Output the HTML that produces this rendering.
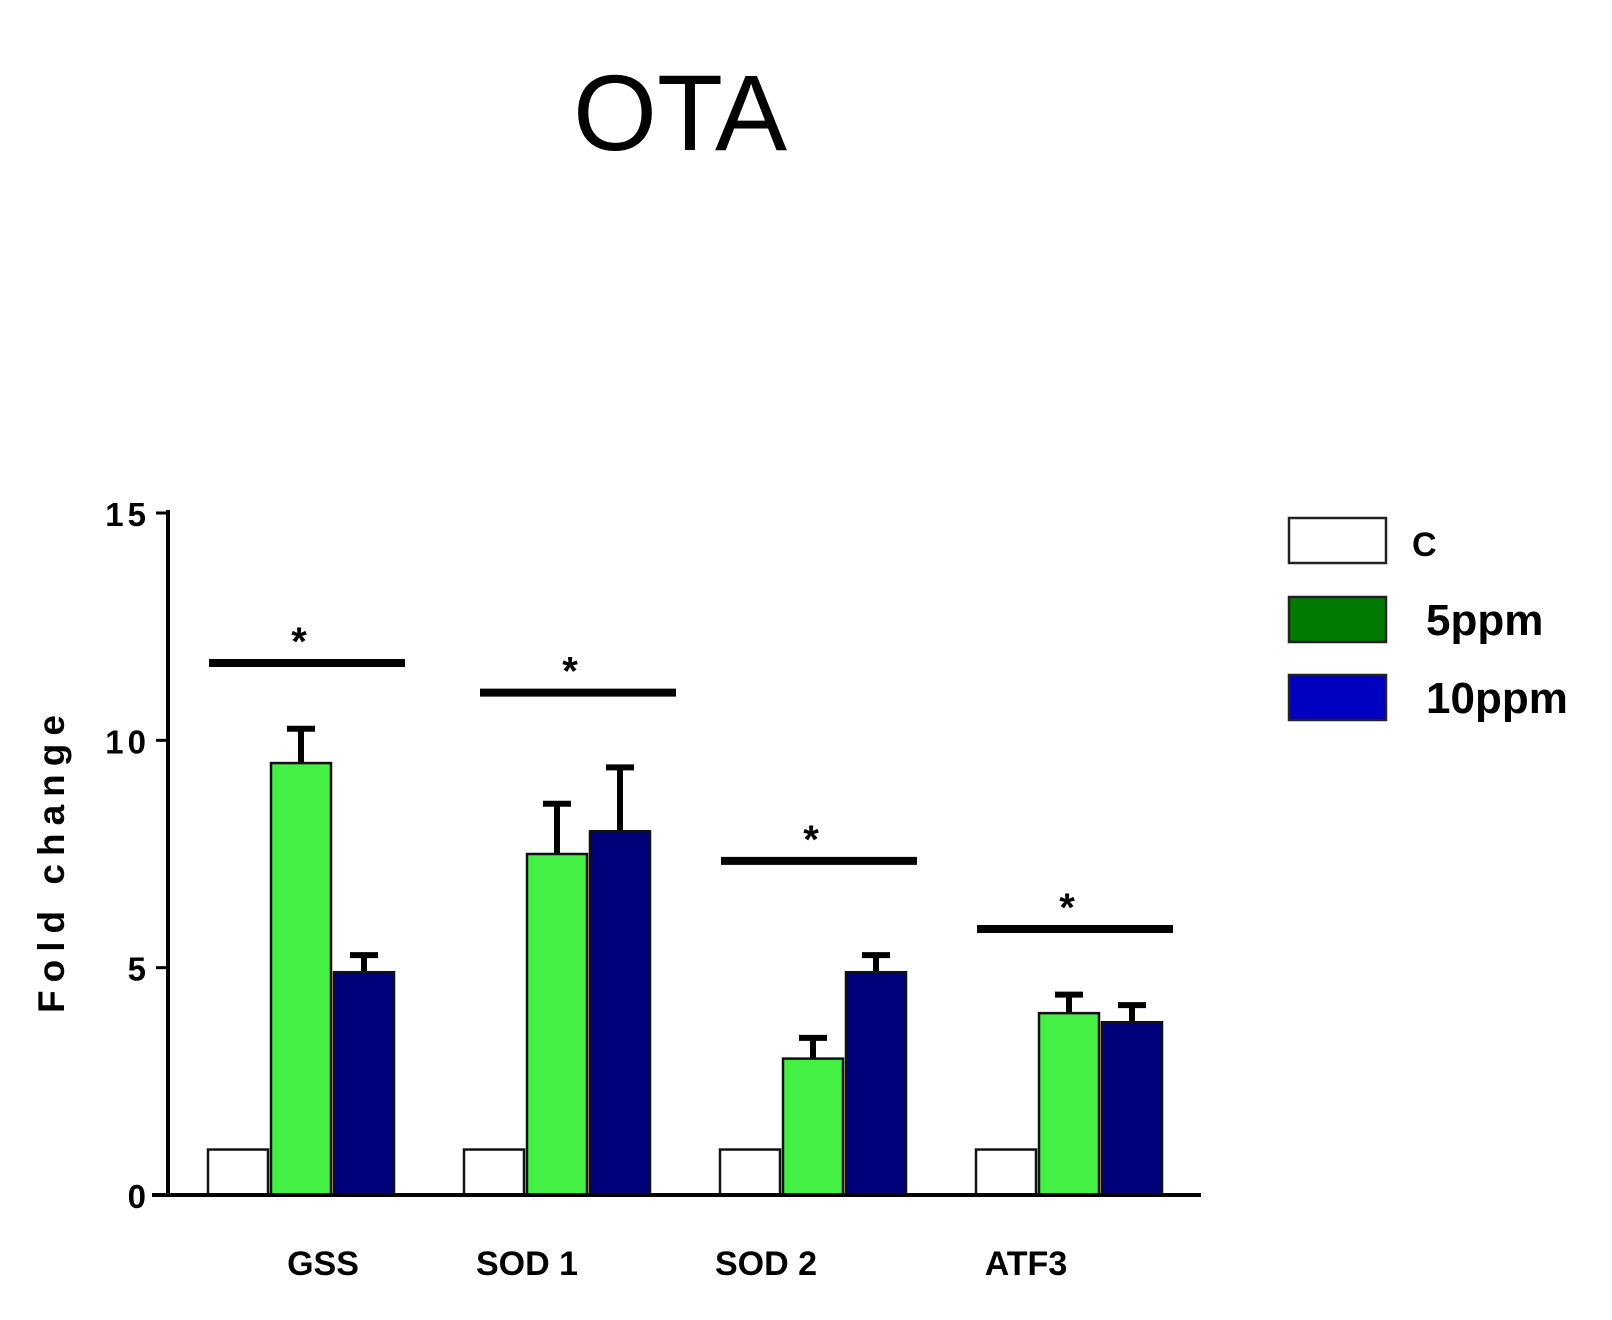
<!DOCTYPE html>
<html><head><meta charset="utf-8"><style>
body{margin:0;background:#fff;}
svg{display:block;font-family:"Liberation Sans",Arial,sans-serif;}
</style></head><body>
<svg id="chart" width="1612" height="1320" viewBox="0 0 1612 1320">
<text x="680" y="150" font-size="108" text-anchor="middle" fill="#000">OTA</text>
<g id="plot"></g>
</svg>
<script>
const categories=["GSS","SOD 1","SOD 2","ATF3"];
const controlVals=[1,1,1,1];
const ppm5Vals=[9.5,7.5,3.0,4.0];
const ppm10Vals=[4.9,8.0,4.9,3.8];
const ppm5Err=[0.8,1.15,0.5,0.45];
const ppm10Err=[0.42,1.45,0.42,0.42];
const sigLevels=[11.7,11.05,7.35,5.85];
const yTicks=[0,5,10,15];
const seriesNames=["C","5ppm","10ppm"];

const NS="http://www.w3.org/2000/svg";
const g=document.getElementById('plot');
const y0=1195,yTop=513,yMax=15;
function yS(v){return y0-(v/yMax)*(y0-yTop);}
function gx(i){return 208+i*256;}
function mk(tag,attrs,text){const e=document.createElementNS(NS,tag);for(const k in attrs)e.setAttribute(k,attrs[k]);if(text!==undefined)e.textContent=text;g.appendChild(e);return e;}
const bw=60,step=63;
const fills=["#ffffff","#44f044","#00007a"];
const sets=[controlVals,ppm5Vals,ppm10Vals];
const errs=[null,ppm5Err,ppm10Err];
const sigShift=[1,16,1,1];
const lblOff=[115,63,46,50];
categories.forEach((c,i)=>{
  sets.forEach((arr,s)=>{
    const x=gx(i)+s*step,v=arr[i];
    if(errs[s]){
      const t=yS(v+errs[s][i]);const cx=x+bw/2;
      const l=mk('line',{x1:cx,x2:cx,y1:t,y2:yS(v),stroke:'#000','stroke-width':6});
      
      
      const cp=mk('line',{x1:cx-14,x2:cx+14,y1:t+2,y2:t+2,stroke:'#000','stroke-width':6});
      
      
    }
    const r=mk('rect',{x:x,y:yS(v),width:bw,height:y0-yS(v),fill:fills[s],stroke:'#111','stroke-width':2.5});
    
    
  });
  const sy=yS(sigLevels[i]);
  const sx=gx(i)+sigShift[i];
  const sl=mk('line',{x1:sx,x2:sx+196,y1:sy,y2:sy,stroke:'#000','stroke-width':8});
  
  
  const st=mk('text',{x:sx+90,y:sy-8,'font-size':40,'font-weight':'bold','text-anchor':'middle'},'*');
  
  
  const xl=mk('text',{x:gx(i)+lblOff[i],y:1275,'font-size':34,'font-weight':'bold','text-anchor':'middle'},c);
  
  
});
const ax=mk('line',{x1:168,x2:168,y1:510,y2:1197,stroke:'#000','stroke-width':4});


const xax=mk('line',{x1:152,x2:1201,y1:y0,y2:y0,stroke:'#000','stroke-width':4});


yTicks.forEach(t=>{
  const tk=mk('line',{x1:156,x2:168,y1:yS(t),y2:yS(t),stroke:'#000','stroke-width':3});
  
  
  const tl=mk('text',{x:150,y:yS(t)+13,'font-size':33,'font-weight':'bold','text-anchor':'end','letter-spacing':'4'},String(t));
  
  
});
const yt=mk('text',{x:0,y:0,'font-size':37,'font-weight':'bold','text-anchor':'middle','letter-spacing':'8',transform:'translate(64,860) rotate(-90)'},'Fold change');


const lgFill=["#ffffff","#007a00","#0000c0"];
const lgY=[518,597,675];
const lgTx=[1412,1426,1426];
const lgFs=[34,44,44];
seriesNames.forEach((n,s)=>{
  const r=mk('rect',{x:1289,y:lgY[s],width:97,height:45,fill:lgFill[s],stroke:'#222','stroke-width':2.5});
  
  
  const t=mk('text',{x:lgTx[s],y:lgY[s]+38,'font-size':lgFs[s],'font-weight':'bold'},n);
  
  
});
</script>
</body></html>
